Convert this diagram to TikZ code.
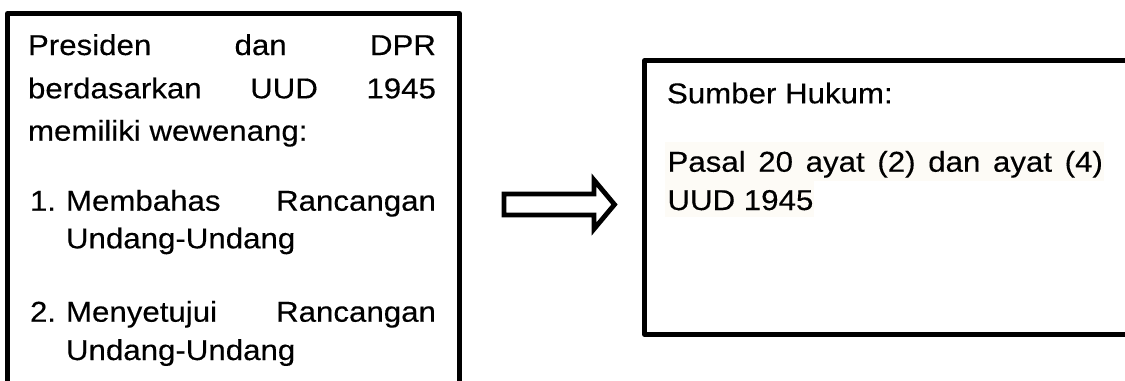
\documentclass[tikz,border=0pt]{standalone}
\usepackage{fontspec}
\setmainfont{Liberation Sans}[FakeStretch=1.09,FakeBold=0.3]
\definecolor{hilite}{RGB}{253,251,246}
\begin{document}
\begin{tikzpicture}[x=0.75pt,y=-0.75pt,
  boxline/.style={line width=3.75pt,line join=round},
  txt/.style={anchor=base west,inner sep=0pt,outer sep=0pt,font=\fontsize{21.5}{25}\selectfont}]
\useasboundingbox (0,0) rectangle (1125,380);
\fill[white] (0,0) rectangle (1125,380);
% left box
\draw[boxline] (7.5,13.5) rectangle (459.5,400);
\node[txt] (l1) at (28,55) {\hbox to 306pt{Presiden\hfill dan\hfill DPR}};
\node[txt] (l2) at (28,98.3) {\hbox to 306pt{berdasarkan\hfill UUD\hfill 1945}};
\node[txt] (l3) at (28,140.7) {memiliki wewenang:};
\node[txt] (n1) at (30,210.7) {1.};
\node[txt] (i1) at (66,210.7) {\hbox to 277.5pt{Membahas\hfill Rancangan}};
\node[txt] (i1b) at (66,248.3) {Undang-Undang};
\node[txt] (n2) at (30,321.7) {2.};
\node[txt] (i2) at (66,321.7) {\hbox to 277.5pt{Menyetujui\hfill Rancangan}};
\node[txt] (i2b) at (66,360) {Undang-Undang};
% block arrow
\draw[line width=3.6pt,line join=miter] (504,194) -- (594,194) -- (594,180) -- (614.5,204.5)
  -- (594,229) -- (594,215) -- (504,215) -- cycle;
% right box
\fill[hilite] (665,142) rectangle (1104,181);
\fill[hilite] (665,181) rectangle (814,217);
\draw[boxline] (644.8,60.5) rectangle (1127.5,334.5);
\node[txt] (r1) at (667,103.3) {Sumber Hukum:};
\node[txt] (r2) at (667.5,171.7) {\hbox to 326.6pt{Pasal\hfill 20\hfill ayat\hfill (2)\hfill dan\hfill ayat\hfill (4)}};
\node[txt] (r3) at (667.5,210) {UUD 1945};
\end{tikzpicture}
\end{document}
